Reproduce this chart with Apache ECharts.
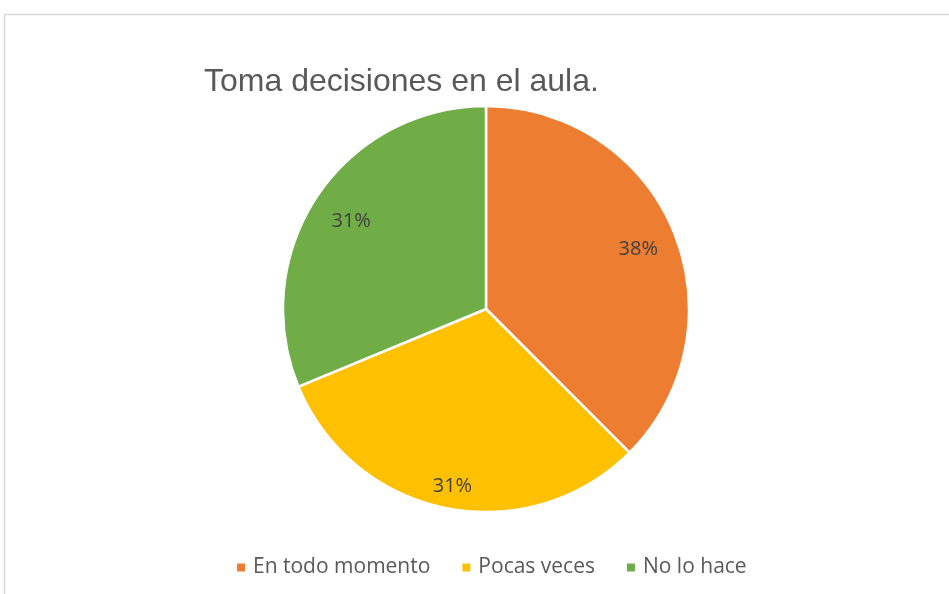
<!DOCTYPE html>
<html>
<head>
<meta charset="utf-8">
<script src="https://cdn.jsdelivr.net/npm/echarts@6/dist/echarts.min.js"></script>
<style>html,body{margin:0;padding:0;background:#fff}#c{width:949px;height:594px}</style>
</head>
<body>
<div id="c"></div>
<script>
var titleText = 'Toma decisiones en el aula.';
var categories = ['En todo momento', 'Pocas veces', 'No lo hace'];
var values = [12, 10, 10];
var colors = ['#ED7D31', '#FFC000', '#70AD47'];
var labelOffsets = [[-2, 4], [-1, 14], [4, 5]];

var chart = echarts.init(document.getElementById('c'));
var data = categories.map(function (c, i) {
  return { name: c, value: values[i], itemStyle: { color: colors[i] } };
});
var labelData = categories.map(function (c, i) {
  return { name: c, value: values[i], itemStyle: { color: 'rgba(0,0,0,0)' }, label: { offset: labelOffsets[i] } };
});
chart.setOption({
  animation: false,
  graphic: [{
    type: 'rect', silent: true,
    shape: { x: 4.5, y: 14.5, width: 1000, height: 700 },
    style: { fill: 'none', stroke: '#d9d9d9', lineWidth: 1.5 }
  }],
  title: {
    text: titleText, left: 204, top: 66, padding: 0,
    textStyle: { fontFamily: 'Liberation Sans', fontSize: 32, fontWeight: 'normal', color: '#595959' }
  },
  legend: {
    data: categories, left: 235, top: 557, icon: 'rect', padding: 0,
    itemWidth: 10, itemHeight: 10, itemGap: 30,
    textStyle: { fontFamily: 'Open Sans', fontSize: 21, color: '#595959', padding: [0, 0, 0, 2] }
  },
  series: [{
    type: 'pie', center: [486, 309], radius: [0, 203], startAngle: 90, clockwise: true,
    label: { show: false }, labelLine: { show: false },
    itemStyle: { borderColor: '#fff', borderWidth: 2.5 },
    emphasis: { disabled: true },
    data: data
  }, {
    type: 'pie', center: [486, 309], radius: [125, 203], startAngle: 90, clockwise: true,
    silent: true, emphasis: { disabled: true },
    itemStyle: { color: 'rgba(0,0,0,0)', borderWidth: 0 },
    label: {
      show: true, position: 'inside', fontFamily: 'Open Sans', fontSize: 20, color: '#404040',
      formatter: function (p) { return Math.round(p.percent) + '%'; }
    },
    labelLine: { show: false },
    data: labelData
  }]
});
</script>
</body>
</html>
